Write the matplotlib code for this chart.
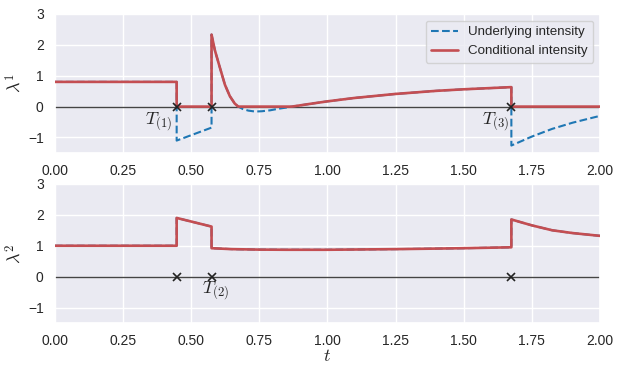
import matplotlib
matplotlib.use("Agg")
import matplotlib.pyplot as plt
import numpy as np
import seaborn as sns

sns.set_theme(style="darkgrid")
plt.rcParams["font.family"] = ["Liberation Sans", "DejaVu Sans"]
plt.rcParams["mathtext.fontset"] = "cm"

# ── Datos ───────────────────────────────────────────────────────────
eventos = [0.447, 0.575, 1.675]

t_dim1 = [0.0, 0.447, 0.447, 0.575, 0.575, 0.587, 0.606, 0.624, 0.642, 0.66,
          0.673, 0.69, 0.71, 0.735, 0.76, 0.79, 0.82, 0.85, 0.87, 0.93, 1.0,
          1.1, 1.25, 1.4, 1.5, 1.6, 1.675, 1.675, 1.75, 1.825, 1.9, 2.0]
u_dim1 = [0.8, 0.8, -1.1, -0.68, 2.33, 1.83, 1.25, 0.71, 0.34, 0.10,
          0.0, -0.08, -0.13, -0.16, -0.15, -0.12, -0.07, -0.03, 0.0, 0.08, 0.17,
          0.28, 0.41, 0.51, 0.56, 0.60, 0.63, -1.26, -0.97, -0.72, -0.52, -0.30]

t_dim2 = [0.0, 0.447, 0.447, 0.575, 0.575, 0.65, 0.75, 0.85, 1.0, 1.25,
          1.5, 1.675, 1.675, 1.75, 1.825, 1.9, 2.0]
u_dim2 = [1.0, 1.0, 1.90, 1.62, 0.92, 0.89, 0.875, 0.87, 0.87, 0.89,
          0.92, 0.95, 1.85, 1.66, 1.50, 1.41, 1.32]

AZUL = "#1f77b4"
ROJO = "#C44E52"

fig, axes = plt.subplots(2, 1, figsize=(6.23, 3.76), dpi=100)
fig.subplots_adjust(left=0.088, right=0.963, top=0.963, bottom=0.141,
                    hspace=0.223)

series = [(t_dim1, u_dim1, r"$\lambda^1$"), (t_dim2, u_dim2, r"$\lambda^2$")]
for ax, (t, u, etiqueta) in zip(axes, series):
    t = np.array(t)
    u = np.array(u)
    ax.axhline(0, color="#444444", lw=1.0, zorder=2)
    ax.plot(t, u, ls="--", color=AZUL, lw=1.5, label="Underlying intensity",
            zorder=3)
    ax.plot(t, np.maximum(u, 0), color=ROJO, lw=1.9,
            label="Conditional intensity", zorder=4)
    ax.plot(eventos, np.zeros(len(eventos)), "x", color="#222222", ms=6,
            mew=1.2, zorder=5)
    ax.set_xlim(0, 2)
    ax.set_ylim(-1.5, 3)
    ax.set_yticks([-1, 0, 1, 2, 3])
    ax.set_xticks([0, 0.25, 0.5, 0.75, 1.0, 1.25, 1.5, 1.75, 2.0])
    ax.set_xticklabels([f"{v:.2f}" for v in ax.get_xticks()])
    ax.tick_params(labelsize=10, pad=2)
    ax.set_ylabel(etiqueta, fontsize=13, labelpad=3)

axes[0].legend(loc="upper right", fontsize=9.6, handlelength=2.0)
axes[0].text(eventos[0] - 0.015, -0.5, r"$T_{(1)}$", ha="right", va="center",
             fontsize=13)
axes[0].text(eventos[2] - 0.008, -0.5, r"$T_{(3)}$", ha="right", va="center",
             fontsize=13)
axes[1].text(eventos[1] + 0.015, -0.47, r"$T_{(2)}$", ha="center", va="center",
             fontsize=13)
axes[1].set_xlabel(r"$t$", fontsize=13, labelpad=0)

fig.savefig("out.png", dpi=100)
